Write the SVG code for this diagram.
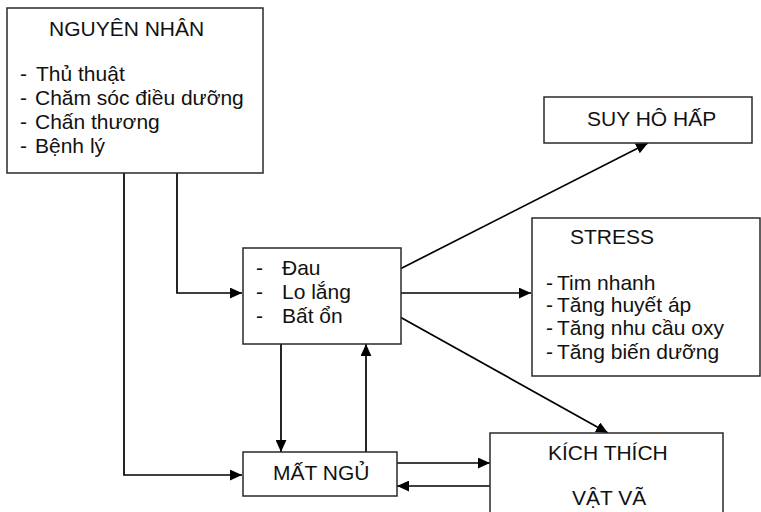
<svg xmlns="http://www.w3.org/2000/svg" width="761" height="512" viewBox="0 0 761 512">
  <style>
    .box { fill: #ffffff; stroke: #2a2a2a; stroke-width: 1.5; }
    .lbl { font-family: "Liberation Sans", Arial, sans-serif; font-size: 21px; fill: #111111; }
    .ttl { font-family: "Liberation Sans", Arial, sans-serif; font-size: 21px; fill: #111111; }
    .conn { fill: none; stroke: #000000; stroke-width: 1.7; }
  </style>
  <defs>
    <marker id="arrow" viewBox="0 0 10 9" refX="10" refY="4.5" markerWidth="12" markerHeight="11" markerUnits="userSpaceOnUse" orient="auto">
      <path d="M0,0 L10,4.5 L0,9 z" fill="#000000"/>
    </marker>
  </defs>
  <rect width="761" height="512" fill="#ffffff"/>

  <!-- connectors -->
  <g id="connectors">
    <path class="conn" d="M177,173 V293 H242" marker-end="url(#arrow)"/>
    <path class="conn" d="M124,173 V475 H242" marker-end="url(#arrow)"/>
    <path class="conn" d="M281,344 V452" marker-end="url(#arrow)"/>
    <path class="conn" d="M366,452 V344" marker-end="url(#arrow)"/>
    <path class="conn" d="M400,269 L648,143" marker-end="url(#arrow)"/>
    <path class="conn" d="M401,293 H531" marker-end="url(#arrow)"/>
    <path class="conn" d="M400,317 L608,433" marker-end="url(#arrow)"/>
    <path class="conn" d="M397,463 H490" marker-end="url(#arrow)"/>
    <path class="conn" d="M490,486 H397" marker-end="url(#arrow)"/>
  </g>

  <!-- causes -->
  <g id="nguyen-nhan">
    <rect class="box" x="7" y="8" width="256" height="165"/>
    <text class="ttl" x="49" y="36">NGUYÊN NHÂN</text>
    <text class="lbl" x="20" y="81">-</text><text class="lbl" x="36" y="81">Thủ thuật</text>
    <text class="lbl" x="20" y="105">-</text><text class="lbl" x="35" y="105">Chăm sóc điều dưỡng</text>
    <text class="lbl" x="20" y="129">-</text><text class="lbl" x="35" y="129">Chấn thương</text>
    <text class="lbl" x="20" y="153">-</text><text class="lbl" x="35" y="153">Bệnh lý</text>
  </g>

  <!-- pain / anxiety -->
  <g id="dau">
    <rect class="box" x="243" y="248" width="158" height="96"/>
    <text class="lbl" x="256" y="275">-</text><text class="lbl" x="282" y="275">Đau</text>
    <text class="lbl" x="256" y="299">-</text><text class="lbl" x="282" y="299">Lo lắng</text>
    <text class="lbl" x="256" y="323">-</text><text class="lbl" x="282" y="323">Bất ổn</text>
  </g>

  <!-- respiratory failure -->
  <g id="suy-ho-hap">
    <rect class="box" x="544" y="97" width="208" height="46"/>
    <text class="lbl" x="587" y="126">SUY HÔ HẤP</text>
  </g>

  <!-- stress -->
  <g id="stress">
    <rect class="box" x="532" y="218" width="228" height="158"/>
    <text class="lbl" x="570" y="244">STRESS</text>
    <text class="lbl" x="546" y="290">-</text><text class="lbl" x="557" y="290">Tim nhanh</text>
    <text class="lbl" x="546" y="312">-</text><text class="lbl" x="557" y="312">Tăng huyết áp</text>
    <text class="lbl" x="546" y="335">-</text><text class="lbl" x="557" y="335">Tăng nhu cầu oxy</text>
    <text class="lbl" x="546" y="359">-</text><text class="lbl" x="557" y="359">Tăng biến dưỡng</text>
  </g>

  <!-- insomnia -->
  <g id="mat-ngu">
    <rect class="box" x="243" y="452" width="154" height="44"/>
    <text class="lbl" x="273" y="480">MẤT NGỦ</text>
  </g>

  <!-- agitation -->
  <g id="kich-thich">
    <rect class="box" x="490" y="433" width="233" height="90"/>
    <text class="lbl" x="548" y="460">KÍCH THÍCH</text>
    <text class="lbl" x="572" y="505">VẬT VÃ</text>
  </g>
</svg>
